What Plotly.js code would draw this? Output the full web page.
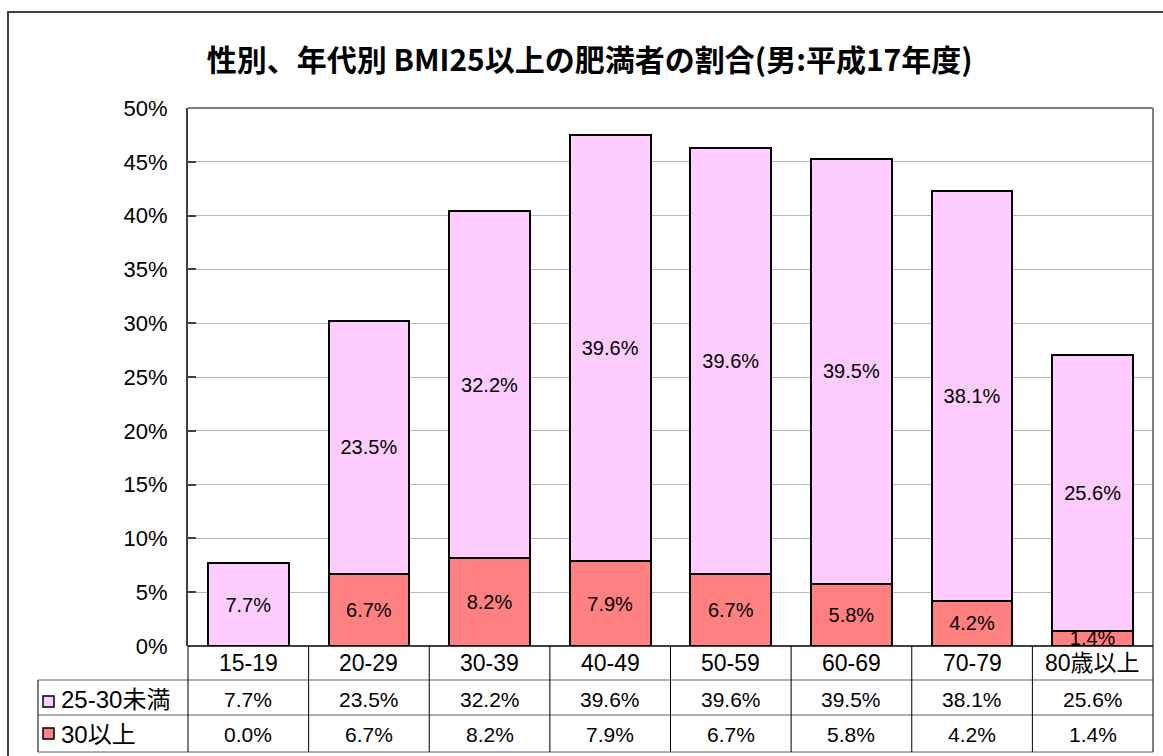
<!DOCTYPE html>
<html>
<head>
<meta charset="utf-8">
<script src="https://cdn.plot.ly/plotly-3.0.1.min.js"></script>
<style>html,body{margin:0;padding:0;background:#fff;}#chart{width:1163px;height:756px;}</style>
</head>
<body>
<div id="chart"></div>
<script>
const categories = ['15-19','20-29','30-39','40-49','50-59','60-69','70-79','80歳以上'];
const seriesNames = ['25-30未満','30以上'];
const values2530 = [7.7, 23.5, 32.2, 39.6, 39.6, 39.5, 38.1, 25.6];
const values30 = [0.0, 6.7, 8.2, 7.9, 6.7, 5.8, 4.2, 1.4];
const yTicks = [0,5,10,15,20,25,30,35,40,45,50];
const titleText = '性別、年代別 BMI25以上の肥満者の割合(男:平成17年度)';

const PINK = '#FFCCFF', RED = '#FF8080';
const FONT = 'Liberation Sans, Arial, Noto Sans CJK JP, sans-serif';
const fmt = v => v.toFixed(1) + '%';
const xs = categories.map((c,i)=>i);

// pixel helpers for the layout (plot area 188..1153 x, 108..646 y)
const L=188, R=1153, T=108, B=646;
const px = p => (p - L)/(R - L);
const py = p => (B - p)/(B - T);

const traces = [
  {type:'bar', name:seriesNames[1], x:xs, y:values30,
   marker:{color:RED, line:{color:'#000', width:2}}, width:0.67,
   text: values30.map(v => v>0 ? fmt(v) : ''), textposition:'inside',
   insidetextanchor:'middle', constraintext:'none',
   textfont:{family:FONT, size:20, color:'#000'}, hoverinfo:'none'},
  {type:'bar', name:seriesNames[0], x:xs, y:values2530,
   marker:{color:PINK, line:{color:'#000', width:2}}, width:0.67,
   text: values2530.map(v => v>0 ? fmt(v) : ''), textposition:'inside',
   insidetextanchor:'middle', constraintext:'none',
   textfont:{family:FONT, size:20, color:'#000'}, hoverinfo:'none'}
];

const shapes = [];
const annotations = [];
const lineC = '#404040';
// outer frame
shapes.push({type:'rect', xref:'paper', yref:'paper', x0:px(8), x1:px(1175), y0:py(12), y1:py(775), line:{color:lineC, width:2}, layer:'below'});
// plot area top & right border
shapes.push({type:'line', xref:'paper', yref:'paper', x0:0, x1:1, y0:1, y1:1, line:{color:'#808080', width:2}});
shapes.push({type:'line', xref:'paper', yref:'paper', x0:1, x1:1, y0:0, y1:1, line:{color:'#808080', width:2}});
// table
const rowLines = [646, 680, 715, 752];
shapes.push({type:'line', xref:'paper', yref:'paper', x0:0, x1:1, y0:py(646), y1:py(646), line:{color:'#000', width:1.5}});
for (let k=1;k<rowLines.length;k++){
  shapes.push({type:'line', xref:'paper', yref:'paper', x0:px(38), x1:1, y0:py(rowLines[k]), y1:py(rowLines[k]), line:{color:'#606060', width:1}});
}
// left border of label column
shapes.push({type:'line', xref:'paper', yref:'paper', x0:px(38), x1:px(38), y0:py(680), y1:py(752), line:{color:'#000', width:1}});
for (let i=0;i<=categories.length;i++){
  shapes.push({type:'line', xref:'paper', yref:'paper', x0:i/categories.length, x1:i/categories.length, y0:py(646), y1:py(752), line:{color:'#000', width:1}});
}
// legend keys in table
shapes.push({type:'rect', xref:'paper', yref:'paper', x0:px(43), x1:px(54), y0:py(696), y1:py(707), fillcolor:PINK, line:{color:'#000', width:1.5}});
shapes.push({type:'rect', xref:'paper', yref:'paper', x0:px(43), x1:px(54), y0:py(728), y1:py(739), fillcolor:RED, line:{color:'#000', width:1.5}});

const rowY = [663, 699, 734];
categories.forEach((c,i)=>{
  annotations.push({xref:'x', yref:'paper', x:i, y:py(rowY[0]), text:c, showarrow:false, font:{family:FONT, size:23, color:'#000'}, xanchor:'center', yanchor:'middle'});
  annotations.push({xref:'x', yref:'paper', x:i, y:py(rowY[1]), text:fmt(values2530[i]), showarrow:false, font:{family:FONT, size:21, color:'#000'}, xanchor:'center', yanchor:'middle'});
  annotations.push({xref:'x', yref:'paper', x:i, y:py(rowY[2]), text:fmt(values30[i]), showarrow:false, font:{family:FONT, size:21, color:'#000'}, xanchor:'center', yanchor:'middle'});
});
annotations.push({xref:'paper', yref:'paper', x:px(59), y:py(rowY[1]), text:seriesNames[0], showarrow:false, font:{family:FONT, size:24, color:'#000'}, xanchor:'left', yanchor:'middle'});
annotations.push({xref:'paper', yref:'paper', x:px(59), y:py(rowY[2]), text:seriesNames[1], showarrow:false, font:{family:FONT, size:24, color:'#000'}, xanchor:'left', yanchor:'middle'});

const layout = {
  width:1163, height:756,
  margin:{l:L, r:1163-R, t:T, b:756-B, pad:0},
  paper_bgcolor:'#fff', plot_bgcolor:'#fff',
  barmode:'stack', showlegend:false,
  title:{text:titleText, font:{family:'Noto Sans CJK JP, sans-serif', size:30, color:'#000', weight:'bold'},
         x:0.507, xref:'container', xanchor:'center', y:1-60/756, yref:'container', yanchor:'middle'},
  xaxis:{range:[-0.5, categories.length-0.5], showticklabels:false, ticks:'', showgrid:false, zeroline:false, showline:false, fixedrange:true},
  yaxis:{range:[0,50], tickvals:yTicks, ticktext:yTicks.map(v=>v+'%'), showgrid:true, gridcolor:'#b8b8b8', gridwidth:1,
         zeroline:false, showline:true, linecolor:lineC, linewidth:2, ticks:'inside', ticklen:8, tickcolor:lineC, tickwidth:2,
         ticklabelstandoff:14, tickfont:{family:FONT, size:22, color:'#000'}, fixedrange:true},
  shapes:shapes, annotations:annotations,
  font:{family:FONT}
};
Plotly.newPlot('chart', traces, layout, {displayModeBar:false, staticPlot:true});
</script>
</body>
</html>
